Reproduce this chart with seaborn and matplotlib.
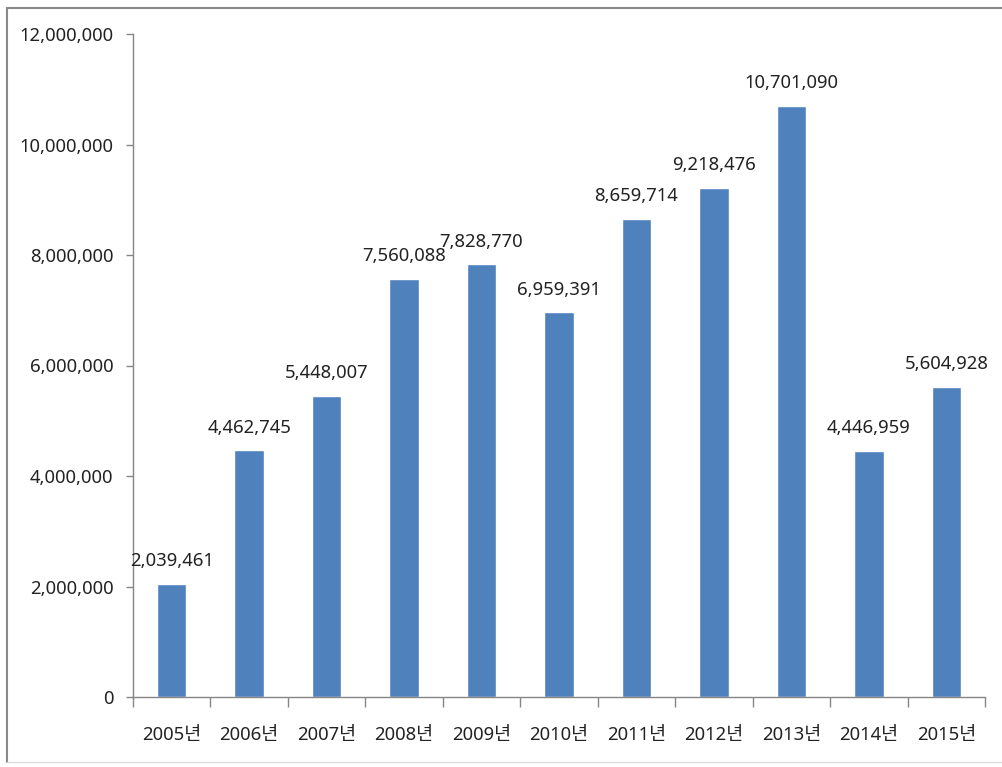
import matplotlib
matplotlib.use("Agg")
import matplotlib.pyplot as plt
import seaborn as sns
import pandas as pd
from matplotlib.lines import Line2D

years = ["2005년", "2006년", "2007년", "2008년", "2009년", "2010년",
         "2011년", "2012년", "2013년", "2014년", "2015년"]
values = [2039461, 4462745, 5448007, 7560088, 7828770, 6959391,
          8659714, 9218476, 10701090, 4446959, 5604928]
yticks = [0, 2000000, 4000000, 6000000, 8000000, 10000000, 12000000]

sns.set_theme(style="white")
plt.rcParams['font.family'] = ['Noto Sans', 'Noto Sans CJK KR', 'DejaVu Sans']

df = pd.DataFrame({"year": years, "value": values})

fig = plt.figure(figsize=(10.02, 7.67), dpi=100)
ax = fig.add_axes([133/1002, 1-697/767, (985-133)/1002, (697-34)/767])

sns.barplot(data=df, x="year", y="value", color="#4F81BD", width=0.38,
            saturation=1, ax=ax)

FS = 13.3
ax.set_xlim(-0.5, len(years)-0.5)
ax.set_ylim(0, 12000000)
ax.set_yticks(yticks)
ax.set_yticklabels([f"{v:,}" for v in yticks], fontsize=FS, color="#222222")
ax.set_xticks(range(len(years)))
ax.set_xticklabels(years, fontsize=FS, color="#222222")
ax.tick_params(axis='x', length=0, pad=21)
ax.tick_params(axis='y', length=5, width=1, color="#868686", direction='out', left=True, pad=9)
# category boundary ticks on x
ax.set_xticks([i - 0.5 for i in range(len(years)+1)], minor=True)
ax.tick_params(axis='x', which='minor', length=7, width=1, color="#868686", direction='out', bottom=True)

ax.set_xlabel("")
ax.set_ylabel("")
for s in ["top", "right"]:
    ax.spines[s].set_visible(False)
for s in ["left", "bottom"]:
    ax.spines[s].set_color("#868686")
    ax.spines[s].set_linewidth(1)

for i, v in enumerate(values):
    ax.annotate(f"{v:,}", (i, v), xytext=(0, 10), textcoords="offset points",
                ha="center", va="bottom", fontsize=FS, color="#222222")

# outer frame
fig.add_artist(Line2D([7/1002, 7/1002], [1-8/767, 1-762/767], transform=fig.transFigure, color="#888888", lw=1.5))
fig.add_artist(Line2D([7/1002, 1.0], [1-8/767, 1-8/767], transform=fig.transFigure, color="#888888", lw=1.5))
fig.add_artist(Line2D([7/1002, 1.0], [1-762/767, 1-762/767], transform=fig.transFigure, color="#dddddd", lw=1))

fig.savefig("out.png", dpi=100)
